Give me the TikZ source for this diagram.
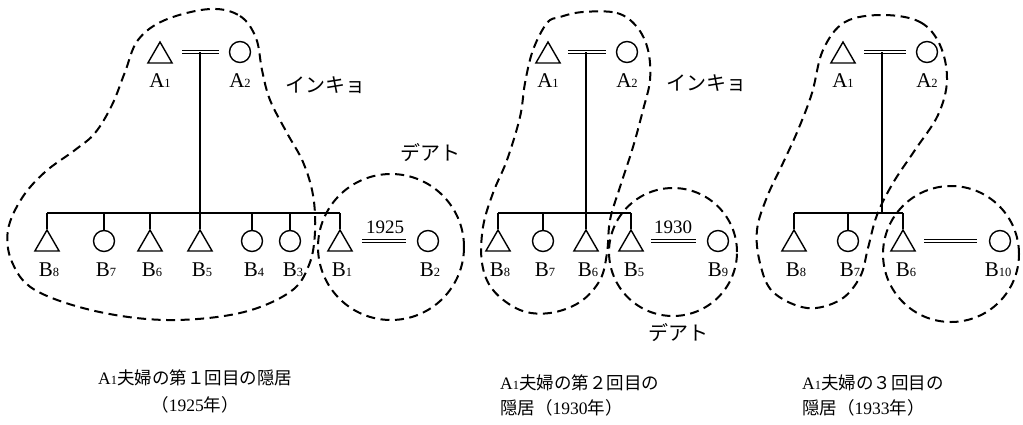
\documentclass[tikz,border=0pt]{standalone}
\usepackage{fontspec}
\setmainfont{Liberation Serif}
\newfontfamily\jp{Noto Sans CJK JP}
\usetikzlibrary{shapes.geometric}
\newcommand\plab[2]{#1{\fontsize{12.5}{12.5}\selectfont #2}}
\tikzset{
  tri/.style={draw, line width=1.4pt, regular polygon, regular polygon sides=3, minimum size=28pt, inner sep=0pt},
  circ/.style={draw, line width=1.4pt, circle, minimum size=21pt, inner sep=0pt},
  lbl/.style={font=\fontsize{21}{21}\selectfont, inner sep=0pt},
  yr/.style={font=\fontsize{19}{19}\selectfont, inner sep=0pt},
  jlab/.style={font=\fontsize{20}{20}\selectfont\jp, inner sep=0pt},
  ttl/.style={font=\fontsize{17.5}{22}\selectfont, inner sep=0pt, align=left},
  line/.style={line width=1.4pt},
  dbl/.style={double, double distance=1.6pt, line width=1.2pt},
  blob/.style={line width=2pt, dash pattern=on 9pt off 5.5pt},
  dcirc/.style={blob, draw, circle, inner sep=0pt}
}
\begin{document}
\begin{tikzpicture}[x=1pt,y=-1pt]
\useasboundingbox (0,0) rectangle (1023,424);
%%%%%%%%%%%%%% Panel 1
\node[tri] (p1a1) at (160,56) {};
\node[circ] (p1a2) at (240,52) {};
\node[lbl] at (160,81) {\plab{A}{1}};
\node[lbl] at (240,81) {\plab{A}{2}};
\draw[dbl] ([xshift=9pt]p1a1.corner 3 |- p1a2.center) -- ([xshift=-10pt]p1a2.west);
\coordinate (p1m) at (200,52);
\coordinate (p1bar) at (200,213);
\draw[line] (p1m) -- (p1bar);
\node[tri] (p1b8) at (47,244) {};
\node[circ] (p1b7) at (104,241) {};
\node[tri] (p1b6) at (150,244) {};
\node[tri] (p1b5) at (200,244) {};
\node[circ] (p1b4) at (252,241) {};
\node[circ] (p1b3) at (290,241) {};
\node[tri] (p1b1) at (340,244) {};
\node[circ] (p1b2) at (428,241) {};
\draw[line] (p1b8.north |- p1bar) -- (p1b1.north |- p1bar);
\foreach \n in {p1b8,p1b7,p1b6,p1b5,p1b4,p1b3,p1b1}
  \draw[line] (\n.north |- p1bar) -- (\n.north);
\draw[dbl] ([xshift=9pt]p1b1.corner 3 |- p1b2.center) -- ([xshift=-11pt]p1b2.west);
\node[yr] at (385,227) {1925};
\node[lbl] at (49,270) {\plab{B}{8}};
\node[lbl] at (106,270) {\plab{B}{7}};
\node[lbl] at (152,270) {\plab{B}{6}};
\node[lbl] at (202,270) {\plab{B}{5}};
\node[lbl] at (254,270) {\plab{B}{4}};
\node[lbl] at (293,270) {\plab{B}{3}};
\node[lbl] at (342,270) {\plab{B}{1}};
\node[lbl] at (430,270) {\plab{B}{2}};
\draw[blob] plot[smooth cycle, tension=0.6] coordinates {
 (210,9) (240,16) (256,38) (262,70) (270,100) (287,133) (303,162) (313,195)
 (315,232) (309,265) (290,292) (240,313) (167,320) (95,311) (35,290) (12,262)
 (8,230) (22,198) (45,172) (75,150) (95,133) (112,105) (125,72) (138,40) (165,20)};
\node[dcirc, minimum size=146pt] (p1c) at (391,247) {};
\node[jlab] at (325,85) {インキョ};
\node[jlab] at (430,153) {デアト};
\node[ttl, anchor=west] at (98,378) {\plab{A}{1}{\jp 夫婦の第１回目の隠居}};
\node[ttl] at (195,405) {{\jp （}1925{\jp 年）}};
%%%%%%%%%%%%%% Panel 2
\node[tri] (p2a1) at (548,56) {};
\node[circ] (p2a2) at (627,52) {};
\node[lbl] at (548,81) {\plab{A}{1}};
\node[lbl] at (627,81) {\plab{A}{2}};
\draw[dbl] ([xshift=7pt]p2a1.corner 3 |- p2a2.center) -- ([xshift=-10pt]p2a2.west);
\coordinate (p2m) at (586,52);
\coordinate (p2bar) at (586,213);
\draw[line] (p2m) -- (p2bar);
\node[tri] (p2b8) at (498,244) {};
\node[circ] (p2b7) at (543,241) {};
\node[tri] (p2b6) at (586,244) {};
\node[tri] (p2b5) at (631,244) {};
\node[circ] (p2b9) at (718,241) {};
\draw[line] (p2b8.north |- p2bar) -- (p2b5.north |- p2bar);
\foreach \n in {p2b8,p2b7,p2b6,p2b5}
  \draw[line] (\n.north |- p2bar) -- (\n.north);
\draw[dbl] ([xshift=7pt]p2b5.corner 3 |- p2b9.center) -- ([xshift=-11pt]p2b9.west);
\node[yr] at (673,227) {1930};
\node[lbl] at (500,270) {\plab{B}{8}};
\node[lbl] at (545,270) {\plab{B}{7}};
\node[lbl] at (588,270) {\plab{B}{6}};
\node[lbl] at (634,270) {\plab{B}{5}};
\node[lbl] at (718,270) {\plab{B}{9}};
\draw[blob] plot[smooth cycle, tension=0.6] coordinates {
 (583,12) (617,13) (637,27) (648,50) (650,80) (643,110) (633,147) (620,187)
 (610,220) (607,253) (600,280) (580,302) (550,313) (520,310) (493,290) (482,263)
 (483,227) (493,193) (507,160) (520,117) (525,83) (533,50) (547,23) (560,17)};
\node[dcirc, minimum size=128pt] (p2c) at (673,252) {};
\node[jlab] at (706,83) {インキョ};
\node[jlab] at (678,333) {デアト};
\node[ttl, anchor=west] at (500,383) {\plab{A}{1}{\jp 夫婦の第２回目の}};
\node[ttl, anchor=west] at (500,408) {{\jp 隠居（}1930{\jp 年）}};
%%%%%%%%%%%%%% Panel 3
\node[tri] (p3a1) at (843,56) {};
\node[circ] (p3a2) at (927,52) {};
\node[lbl] at (843,81) {\plab{A}{1}};
\node[lbl] at (927,81) {\plab{A}{2}};
\draw[dbl] ([xshift=8pt]p3a1.corner 3 |- p3a2.center) -- ([xshift=-10pt]p3a2.west);
\coordinate (p3m) at (882,52);
\coordinate (p3bar) at (882,213);
\draw[line] (p3m) -- (p3bar);
\node[tri] (p3b8) at (794,244) {};
\node[circ] (p3b7) at (848,241) {};
\node[tri] (p3b6) at (903,244) {};
\node[circ] (p3b10) at (1000,241) {};
\draw[line] (p3b8.north |- p3bar) -- (p3b6.north |- p3bar);
\foreach \n in {p3b8,p3b7,p3b6}
  \draw[line] (\n.north |- p3bar) -- (\n.north);
\draw[dbl] ([xshift=8pt]p3b6.corner 3 |- p3b10.center) -- ([xshift=-12pt]p3b10.west);
\node[lbl] at (796,270) {\plab{B}{8}};
\node[lbl] at (850,270) {\plab{B}{7}};
\node[lbl] at (906,270) {\plab{B}{6}};
\node[lbl] at (998,270) {\plab{B}{10}};
\draw[blob] plot[smooth cycle, tension=0.6] coordinates {
 (883,15) (920,22) (940,45) (947,80) (938,115) (915,150) (893,183) (877,215)
 (868,248) (860,277) (840,300) (807,308) (773,292) (760,263) (757,230) (767,197)
 (783,163) (798,130) (812,93) (823,50) (845,22)};
\node[dcirc, minimum size=136pt] (p3c) at (951,254) {};
\node[ttl, anchor=west] at (802,383) {\plab{A}{1}{\jp 夫婦の３回目の}};
\node[ttl, anchor=west] at (802,408) {{\jp 隠居（}1933{\jp 年）}};
\end{tikzpicture}
\end{document}
